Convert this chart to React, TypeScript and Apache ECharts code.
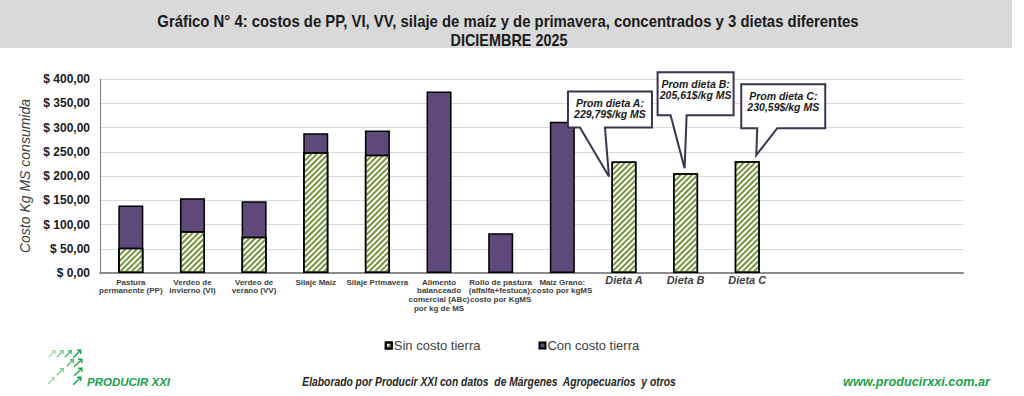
import React, { useEffect, useRef } from 'react';
import * as echarts from 'echarts';

// ---------- data ----------
const categories = [
  'Pastura\npermanente (PP)',
  'Verdeo de\ninvierno (VI)',
  'Verdeo de\nverano (VV)',
  'Silaje Maíz',
  'Silaje Primavera',
  'Alimento\nbalanceado\ncomercial (ABc)\npor kg de MS',
  'Rollo de pastura\n(alfalfa+festuca):\ncosto por KgMS',
  'Maíz Grano:\ncosto por kgMS',
  'Dieta A',
  'Dieta B',
  'Dieta C',
  '',
  ' ',
  '  ',
];
const sinCostoTierra = [52, 86, 75, 249, 244, null, null, null, 229.79, 205.61, 230.59, null, null, null];
const conCostoTierra = [139, 154, 148, 288, 294, 374, 82, 312, null, null, null, null, null, null];
const dietNames = ['A', 'B', 'C'];
const dietIndices = [8, 9, 10];
const dietAverages = [229.79, 205.61, 230.59];
const yMin = 0;
const yMax = 400;
const yInterval = 50;

// ---------- layout (callout offsets relative to bar top centre) ----------
const calloutLayout = [
  { tip: [-15, 15], box: [-56, 28, -70, -34], base: [-44, -19] },
  { tip: [-1, -5], box: [-28, 48, -101, -58], base: [-15, 1] },
  { tip: [9, -6], box: [-6, 78, -77, -33], base: [10, 30] },
];

const SANS = '"Liberation Sans", Arial, sans-serif';
const PURPLE = '#5F497A';
const GREEN = '#77933C';
const LOGO_GREEN = '#1AA14B';

function fmtMoney(v: number) {
  return '$ ' + v.toFixed(2).replace('.', ',');
}

let measureCtx: CanvasRenderingContext2D | null = null;
function textWidth(text: string, font: string) {
  if (!measureCtx) measureCtx = document.createElement('canvas').getContext('2d');
  if (!measureCtx) return 1;
  measureCtx.font = font;
  return measureCtx.measureText(text).width || 1;
}

// text squeezed horizontally to a target width (emulates a narrow font)
function narrowText(text: string, font: string, x: number, y: number, targetWidth: number, align: string, fill: string) {
  const sx = targetWidth / textWidth(text, font);
  return {
    type: 'text', x, y, scaleX: sx, scaleY: 1,
    style: { text, font, align, verticalAlign: 'middle', fill },
  };
}

function arrow(x: number, y: number, s: number, color: string) {
  return {
    type: 'group',
    children: [
      { type: 'line', shape: { x1: x - s, y1: y + s, x2: x + s, y2: y - s }, style: { stroke: color, lineWidth: 1.4 } },
      {
        type: 'polyline',
        shape: { points: [[x, y - s], [x + s, y - s], [x + s, y]] },
        style: { stroke: color, lineWidth: 1.4, fill: null },
      },
    ],
  };
}

export default function App() {
  const ref = useRef<HTMLDivElement>(null);

  useEffect(() => {
    if (!ref.current) return;
    const chart = echarts.init(ref.current, undefined, { renderer: 'svg' });

    const option: any = {
      animation: false,
      backgroundColor: '#fff',
      grid: { left: 100, right: 61, top: 79, bottom: 123, containLabel: false },
      legend: {
        data: ['Sin costo tierra', 'Con costo tierra'],
        top: 334,
        left: 'center',
        itemWidth: 6,
        itemHeight: 6,
        itemGap: 58,
        icon: 'rect',
        textStyle: { fontFamily: SANS, fontSize: 13, color: '#404040', padding: [0, 0, 0, -3] },
      },
      xAxis: {
        type: 'category',
        data: categories,
        axisLine: { lineStyle: { color: '#8C8C8C', width: 2 } },
        axisTick: { show: false },
        axisLabel: {
          interval: 0,
          margin: 5,
          fontFamily: SANS,
          fontSize: 8,
          fontWeight: 'bold',
          lineHeight: 8.6,
          color: '#404040',
          formatter: (v: string, i: number) => (i >= 8 && v.trim() ? '{d|' + v + '}' : v),
          rich: {
            d: { fontFamily: SANS, fontSize: 11, fontStyle: 'italic', fontWeight: 'bold', color: '#404040', lineHeight: 3 },
          },
        },
      },
      yAxis: {
        type: 'value',
        min: yMin,
        max: yMax,
        interval: yInterval,
        name: 'Costo Kg MS consumida',
        nameLocation: 'middle',
        nameGap: 68,
        nameTextStyle: { fontFamily: SANS, fontSize: 14, fontStyle: 'italic', color: '#404040' },
        axisLine: { show: true, lineStyle: { color: '#868686', width: 1.2 } },
        axisTick: { show: false },
        splitLine: { lineStyle: { color: '#D9D9D9', width: 1 } },
        axisLabel: {
          margin: 10,
          fontFamily: SANS,
          fontSize: 12,
          fontWeight: 'bold',
          color: '#1A1A1A',
          formatter: (v: number) => fmtMoney(v),
        },
      },
      series: [
        {
          name: 'Con costo tierra',
          type: 'bar',
          data: conCostoTierra,
          barWidth: 25,
          barGap: '-100%',
          z: 2,
          itemStyle: { color: PURPLE, borderColor: '#000', borderWidth: 1.5 },
        },
        {
          name: 'Sin costo tierra',
          type: 'bar',
          data: sinCostoTierra,
          barWidth: 25,
          barGap: '-100%',
          z: 3,
          itemStyle: {
            color: '#fff',
            borderColor: '#000',
            borderWidth: 1.5,
            decal: {
              symbol: 'rect',
              symbolSize: 1,
              color: GREEN,
              dashArrayX: [1, 0],
              dashArrayY: [2, 1.8],
              rotation: -Math.PI / 4,
            },
          },
        },
      ],
    };
    chart.setOption(option);

    const graphics: any[] = [];
    // title band
    graphics.push({ type: 'rect', shape: { x: 0, y: 0, width: 1012, height: 48 }, style: { fill: '#D9D9D9' }, z: 0 });
    graphics.push(narrowText('Gráfico N° 4: costos de PP, VI, VV, silaje de maíz y de primavera, concentrados y 3 dietas diferentes',
      'bold 16px "Liberation Sans", Arial, sans-serif', 508, 21, 702, 'center', '#1A1A1A'));
    graphics.push(narrowText('DICIEMBRE 2025', 'bold 16px "Liberation Sans", Arial, sans-serif', 509, 40, 117, 'center', '#1A1A1A'));

    // callouts
    dietIndices.forEach((idx, k) => {
      const val = sinCostoTierra[idx] as number;
      const p = chart.convertToPixel({ xAxisIndex: 0, yAxisIndex: 0 }, [idx, val]) as number[];
      const cx = p[0], cy = p[1];
      const L = calloutLayout[k];
      const l = cx + L.box[0], r = cx + L.box[1], t = cy + L.box[2], b = cy + L.box[3];
      const tip = [cx + L.tip[0], cy + L.tip[1]];
      graphics.push({
        type: 'polygon',
        z: 10,
        shape: { points: [[l, t], [r, t], [r, b], [cx + L.base[1], b], tip, [cx + L.base[0], b], [l, b]] },
        style: { fill: '#fff', stroke: '#3F3151', lineWidth: 2 },
      });
      graphics.push({
        type: 'text', z: 11,
        x: (l + r) / 2, y: t + 6,
        style: {
          text: 'Prom dieta ' + dietNames[k] + ':\n' + dietAverages[k].toFixed(2).replace('.', ',') + '$/kg MS',
          align: 'center', verticalAlign: 'top', font: 'italic bold 10.5px ' + SANS, lineHeight: 11, fill: '#1A1A1A',
        },
      });
    });

    // footer
    const arrows = [
      [52, 354, 3.2, '#A6DDB4'], [60, 354, 3.2, '#7FCF95'], [68, 354, 3.2, '#4DBB6D'], [77, 354, 3.8, '#1AA14B'],
      [70, 363, 3.2, '#4DBB6D'], [78, 363, 3.8, '#1AA14B'],
      [60, 372, 3.2, '#7FCF95'], [78, 372, 3.8, '#1AA14B'],
      [51, 381, 3.2, '#A6DDB4'], [77, 381, 3.8, '#1AA14B'],
    ];
    arrows.forEach((a) => graphics.push(arrow(a[0] as number, a[1] as number, a[2] as number, a[3] as string)));
    graphics.push({
      type: 'text', x: 87, y: 382,
      style: { text: 'PRODUCIR XXI', align: 'left', verticalAlign: 'middle', font: 'italic bold 11.5px ' + SANS, fill: LOGO_GREEN },
    });
    graphics.push(narrowText('Elaborado por Producir XXI con datos  de Márgenes  Agropecuarios  y otros',
      'italic bold 12px "Liberation Sans", Arial, sans-serif', 489, 382, 374, 'center', '#262626'));
    graphics.push(narrowText('www.producirxxi.com.ar',
      'italic bold 13px "Liberation Sans", Arial, sans-serif', 990, 381, 147, 'right', LOGO_GREEN));

    chart.setOption({ graphic: graphics });

    return () => chart.dispose();
  }, []);

  return <div ref={ref} style={{ position: 'fixed', left: 0, top: 0, width: 1024, height: 396 }} />;
}
